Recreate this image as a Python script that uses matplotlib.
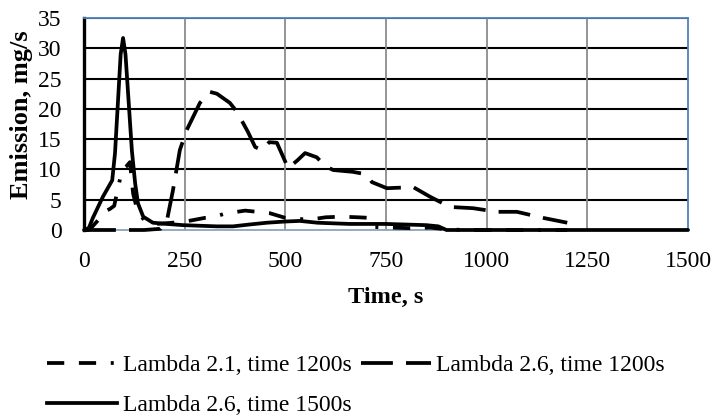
import matplotlib
matplotlib.use("Agg")
import matplotlib.pyplot as plt
from matplotlib.lines import Line2D

# ---- data ----
t21 = [0, 20, 40, 50, 65, 75, 88, 95, 105, 114, 122, 134, 156, 180, 220, 260, 300, 320, 350, 400,
       430, 460, 500, 540, 560, 600, 640, 680, 710, 720, 760, 810, 860, 900, 950, 1000, 1100, 1200]
v21 = [0, 0.5, 2, 3, 3.5, 4, 8, 10, 10.5, 11.2, 6, 2.8, 1.2, 1.0, 1.2, 1.5, 2.0, 2.1, 2.7, 3.2,
       3.0, 2.8, 2.0, 1.8, 1.7, 2.1, 2.2, 2.1, 2.0, 0.5, 0.4, 0.3, 0.4, 0.1, 0, 0, 0, 0]

t26a = [0, 50, 100, 150, 190, 206, 221, 238, 255, 288, 313, 330, 362, 380, 407, 425, 442, 460, 479,
        507, 530, 549, 578, 600, 619, 668, 700, 715, 752, 790, 817, 859, 909, 966, 1025, 1075, 1140, 1200]
v26a = [0, 0, 0, 0, 0.2, 1.6, 6.6, 13.2, 16.5, 21.0, 22.8, 22.5, 21.0, 19.5, 16.2, 13.7, 13.2, 14.5, 14.4,
        10.2, 11.5, 12.7, 12.0, 10.5, 9.9, 9.6, 9.2, 7.9, 6.9, 7.0, 7.1, 5.5, 3.8, 3.6, 3.0, 3.0, 2.0, 1.2]

t26b = [0, 10, 22, 47, 70, 77, 85, 91, 97, 103, 108, 119, 127, 134, 147, 171, 206, 246, 288, 330, 370, 410,
        454, 500, 536, 580, 619, 660, 702, 750, 800, 850, 880, 900, 1000, 1200, 1500]
v26b = [0, 0, 2, 5.5, 8.2, 12.7, 22, 29, 31.7, 29, 24, 13, 7.7, 4.4, 2.2, 1.2, 1.0, 0.8, 0.7, 0.6, 0.6, 0.9,
        1.2, 1.4, 1.5, 1.2, 1.1, 1.0, 1.0, 1.0, 0.9, 0.8, 0.6, 0, 0, 0, 0]

labels = ["Lambda 2.1, time 1200s", "Lambda 2.6, time 1200s", "Lambda 2.6, time 1500s"]
xticks = [0, 250, 500, 750, 1000, 1250, 1500]
yticks = [0, 5, 10, 15, 20, 25, 30, 35]

plt.rcParams['font.family'] = ['Liberation Serif', 'DejaVu Serif']

fig = plt.figure(figsize=(7.15, 4.15), dpi=100)
ax = fig.add_axes([0.1175, 0.4458, 0.8448, 0.5108])

lw = 2.7
d21 = (4.6, 3.9, 4.6, 3.9, 0.8, 3.9)
d26 = (8.5, 3.5)
ax.plot(t21, v21, color='black', lw=lw, dashes=d21, dash_capstyle='butt', zorder=4, clip_on=False)
ax.plot(t26a, v26a, color='black', lw=lw, dashes=d26, dash_capstyle='butt', zorder=4, clip_on=False)
ax.plot(t26b, v26b, color='black', lw=lw, solid_capstyle='round', solid_joinstyle='round',
        zorder=5, clip_on=False)

ax.set_xlim(0, 1500)
ax.set_ylim(0, 35)
ax.set_xticks(xticks)
ax.set_yticks(yticks)
ax.tick_params(axis='both', length=0, labelsize=17)
ax.tick_params(axis='x', pad=15)
ax.tick_params(axis='y', pad=16)

# grid
for y in yticks[1:]:
    ax.axhline(y, color='black', lw=1.5, zorder=1)
for x in xticks[1:-1]:
    ax.axvline(x, color='#8c8c8c', lw=1.3, zorder=1)

for s in ['top', 'right']:
    ax.spines[s].set_color('#4f81bd')
    ax.spines[s].set_linewidth(1.3)
ax.spines['bottom'].set_color('#8ea2bd')
ax.spines['bottom'].set_linewidth(1.3)
ax.spines['left'].set_color('black')
ax.spines['left'].set_linewidth(2.4)

ax.set_xlabel("Time, s", fontsize=17.5, fontweight='bold', labelpad=11)
ax.set_ylabel("Emission, mg/s", fontsize=19, fontweight='bold', va='center')
ax.yaxis.set_label_coords(-0.103, 0.545)

handles = [
    Line2D([], [], color='black', lw=lw, dashes=d21, dash_capstyle='butt'),
    Line2D([], [], color='black', lw=lw),
    Line2D([], [], color='black', lw=lw, dashes=d26, dash_capstyle='butt'),
]
hl = [labels[0], labels[2], labels[1]]
fig.legend(handles, hl, loc='upper left', bbox_to_anchor=(0.066, 0.145), ncol=2,
           frameon=False, fontsize=17, handlelength=2.95, handletextpad=0.25,
           columnspacing=0.4, labelspacing=0.77, borderaxespad=0, borderpad=0)

fig.savefig("out.png", dpi=100)
